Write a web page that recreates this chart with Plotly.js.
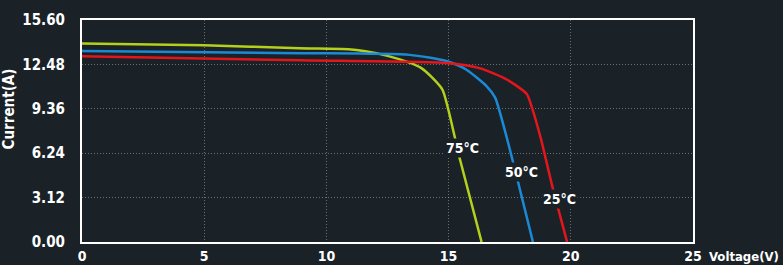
<!DOCTYPE html>
<html><head><meta charset="utf-8">
<script src="https://cdn.plot.ly/plotly-3.0.1.min.js"></script>
<style>html,body{margin:0;padding:0;background:#1a2228;}#c{width:783px;height:265px;}</style>
</head><body><div id="c"></div>
<script>
const v75 = [0, 5, 8.9, 10.9, 11.6, 12.5, 13.4, 13.9, 14.3, 14.75, 15.25, 15.45, 16.35];
const i75 = [13.95, 13.82, 13.62, 13.55, 13.4, 13.08, 12.6, 12.2, 11.6, 10.7, 7.4, 5.9, 0];
const v50 = [0, 8.9, 13.4, 14.9, 15.7, 16.56, 16.9, 17.4, 18.45];
const i50 = [13.43, 13.27, 13.15, 12.72, 12.14, 10.94, 10.16, 7.2, 0];
const v25 = [0, 8.9, 14.9, 16.3, 17.4, 18.2, 18.4, 18.77, 19.26, 19.85];
const i25 = [13.05, 12.77, 12.58, 12.2, 11.4, 10.4, 9.5, 7.3, 3.8, 0];
const labels = ["75°C", "50°C", "25°C"];
const labelV = [15.57, 18.0, 19.55];
const labelI = [6.63, 4.94, 3.03];
const xTicks = [0, 5, 10, 15, 20, 25];
const yTicks = [0, 3.12, 6.24, 9.36, 12.48, 15.60];
const yTickText = ["0.00", "3.12", "6.24", "9.36", "12.48", "15.60"];

const font = "'DejaVu Sans Condensed', 'Roboto', sans-serif";
const mk = (x, y, c) => ({x, y, type:'scatter', mode:'lines', line:{color:c, width:2.5, shape:'spline', smoothing:0.6}, hoverinfo:'skip'});
const data = [mk(v75, i75, '#b4cf1c'), mk(v50, i50, '#1b8ad6'), mk(v25, i25, '#e3161c')];
const ann = labels.map((t, k) => ({x: labelV[k], y: labelI[k], xref:'x', yref:'y', text:'<b>'+t+'</b>', showarrow:false,
  font:{family:font, size:14, color:'#ffffff'}, bgcolor:'#1a2228', borderpad:1}));
ann.push({xref:'paper', yref:'paper', x:-0.137, y:0.79, text:'<b>Current(A)</b>', textangle:-90, showarrow:false,
  font:{family:font, size:15, color:'#ffffff'}});
ann.push({xref:'paper', yref:'paper', x:1.144, xanchor:'right', y:-0.066, yanchor:'middle', text:'<b>Voltage(V)</b>', showarrow:false,
  font:{family:font, size:13, color:'#ffffff'}});
const layout = {
  width:783, height:265, margin:{l:82, r:90, t:20, b:23},
  paper_bgcolor:'#1a2228', plot_bgcolor:'#1a2228', showlegend:false,
  xaxis:{range:[0,25], tickvals:xTicks, ticktext:xTicks.map(v=>'<b>'+v+'</b>'), showgrid:true, griddash:'1px,2px', gridcolor:'rgba(255,255,255,0.35)', gridwidth:1,
    zeroline:false, showline:true, mirror:true, linecolor:'#ffffff', linewidth:2, ticks:'', tickfont:{family:font, size:14, color:'#ffffff'}},
  yaxis:{range:[0,15.6], tickvals:yTicks, ticktext:yTickText.map(v=>'<b>'+v+'</b>'), showgrid:true, griddash:'1px,2px', gridcolor:'rgba(255,255,255,0.35)', gridwidth:1,
    zeroline:false, showline:true, mirror:true, linecolor:'#ffffff', linewidth:2, ticks:'outside', ticklen:12, tickcolor:'rgba(0,0,0,0)', tickfont:{family:font, size:15, color:'#ffffff'}},
  annotations: ann
};
Plotly.newPlot('c', data, layout, {staticPlot:true});
</script></body></html>
